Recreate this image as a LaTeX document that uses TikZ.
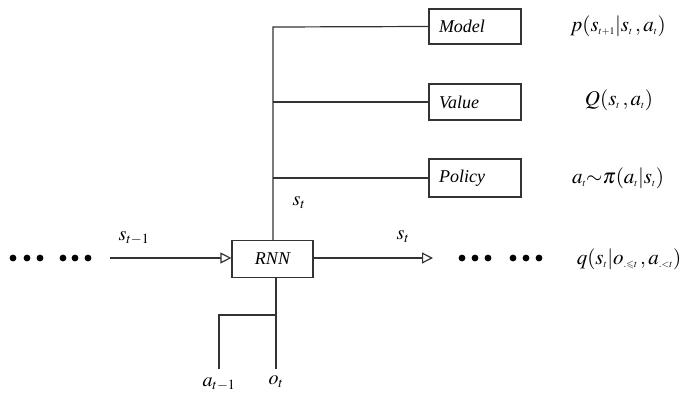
\documentclass[tikz,border=0pt]{standalone}
\usepackage{mathptmx}
\usepackage{amssymb}
\usepackage[no-math]{fontspec}
\setmainfont{Liberation Serif}
\usetikzlibrary{arrows.meta}
\DeclareMathSizes{21}{21}{10}{8}
\DeclareMathSizes{20}{20}{14}{10}

\begin{document}
\begin{tikzpicture}[x=1pt,y=-1pt,
   every node/.style={font=\fontsize{21}{24}\selectfont},
   wire/.style={draw=black!80, line width=1.2pt},
   feed/.style={wire, -{Triangle[open,length=11pt,width=11pt]}},
   block/.style={draw=black!80, line width=1.2pt, rectangle, inner sep=0pt,
      minimum height=36pt, minimum width=92pt, font=\fontsize{18}{20}\selectfont\itshape},
   head/.style={block, text width=72pt, inner xsep=10pt, align=left},
   sig/.style={font=\fontsize{20}{24}\selectfont}]
\useasboundingbox (0,0) rectangle (689,394);

% boxes
\node[block, minimum width=81pt, minimum height=37pt] (rnn) at (272.5,259) {RNN};
\node[head, minimum height=35pt] (model) at (475,26.5) {Model};
\node[head] (value) at (475,102) {Value};
\node[head, minimum height=38pt] (policy) at (475,178) {Policy};

% outputs of the state
\coordinate (top) at (273,27);
\coordinate (vj) at (273,102);
\coordinate (pj) at (273,178);
\draw[wire] (rnn.north -| top) -- (top) -- (model.west);
\draw[wire] (vj) -- (value.west);
\draw[wire] (pj) -- (policy.west);

% inputs
\coordinate (ot) at (276,369);
\coordinate (bj) at (276,315);
\coordinate (at) at (219,369);
\draw[wire] (rnn.south -| ot) -- (ot);
\draw[wire] (bj) -- (bj -| at) -- (at);

% recurrence
\coordinate (in) at (110,258);
\coordinate (out) at (433,258);
\draw[feed] (in) -- (rnn.west |- in);
\draw[feed] (rnn.east |- out) -- (out);

\foreach \x in {13,27,40,63,75,88,462,475,488,513,526,539}
   \fill (\x,258) circle (3.4pt);

% labels
\node[sig] (sprev) at (134,238) {$s_{t-1}$};
\node[sig] (snext) at (403,237) {$s_t$};
\node[sig] (sup) at (299,203) {$s_t$};
\node[sig] (alab) at (219,384) {$a_{t-1}$};
\node[sig] (olab) at (276,382) {$o_t$};
\node (pm) at (618,26) {$p(s_{t+1}|s_t\,,a_t)$};
\node (qv) at (619,100) {$Q(s_t\,,a_t)$};
\node (pi) at (618,178) {$a_t{\sim}\pi(a_t|s_t)$};
\node (qs) at (629,259) {$q(s_t|o_{.\leqslant t}\,,a_{.<t})$};
\end{tikzpicture}
\end{document}
